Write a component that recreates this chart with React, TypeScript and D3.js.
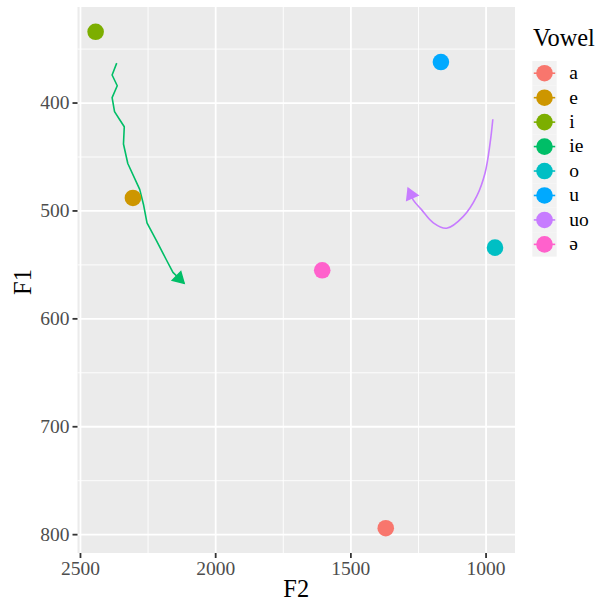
import React from "react";
import * as d3 from "d3";

const vowels = ["a", "e", "i", "ie", "o", "u", "uo", "ə"];
const colors = ["#F8766D", "#CD9600", "#7CAE00", "#00BE67", "#00BFC4", "#00A9FF", "#C77CFF", "#FF61CC"];

// monophthong points
const pointVowels = ["a", "e", "i", "o", "u", "ə"];
const pointF2 = [1371, 2306, 2444, 967, 1167, 1606];
const pointF1 = [794, 488, 334, 534, 362, 555];

// diphthong trajectories
const ieF2 = [2366, 2383, 2364, 2383, 2374, 2356, 2338, 2341, 2325, 2281, 2267, 2254, 2220, 2183, 2158, 2117];
const ieF1 = [363, 374, 384, 395, 408, 415, 422, 438, 456, 480, 494, 511, 527, 545, 557, 567];
const uoF2 = [975, 985, 1004, 1034, 1084, 1146, 1195, 1238, 1269, 1288];
const uoF1 = [415, 437, 465, 486, 505, 516, 511, 499, 490, 479];

const xTicks = [2500, 2000, 1500, 1000];
const xMinor = [2250, 1750, 1250];
const yTicks = [400, 500, 600, 700, 800];
const yMinor = [350, 450, 550, 650, 750];
const xDomain = [2511, 893];
const yDomain = [311, 817];

const W = 598, H = 603;
const pL = 77.5, pR = 515, pT = 7, pB = 553;
const font = "'Liberation Serif', 'Times New Roman', serif";

export default function App() {
  const x = d3.scaleLinear().domain(xDomain).range([pL, pR]);
  const y = d3.scaleLinear().domain(yDomain).range([pT, pB]);
  const col = d3.scaleOrdinal<string, string>().domain(vowels).range(colors);

  const paths = [
    { v: "ie", pts: ieF2.map((f, i) => [f, ieF1[i]] as [number, number]), curve: d3.curveLinear },
    { v: "uo", pts: uoF2.map((f, i) => [f, uoF1[i]] as [number, number]), curve: d3.curveCatmullRom },
  ];

  const arrowHead = (pts: [number, number][]) => {
    const n = pts.length;
    const tx = x(pts[n - 1][0]), ty = y(pts[n - 1][1]);
    const px = x(pts[n - 2][0]), py = y(pts[n - 2][1]);
    const ang = Math.atan2(ty - py, tx - px);
    const len = 12, a = Math.PI / 6;
    const p1 = [tx - len * Math.cos(ang - a), ty - len * Math.sin(ang - a)];
    const p2 = [tx - len * Math.cos(ang + a), ty - len * Math.sin(ang + a)];
    return `M${tx},${ty}L${p1[0]},${p1[1]}L${p2[0]},${p2[1]}Z`;
  };

  const keyTop = 61, keyH = 24.45, keyL = 532.3, keyW = 24.4;

  return (
    <div style={{ position: "absolute", left: 0, top: 0 }}>
      <svg width={W} height={H} style={{ display: "block", fontFamily: font }}>
        <rect x={0} y={0} width={W} height={H} fill="#fff" />
        <rect x={pL} y={pT} width={pR - pL} height={pB - pT} fill="#EBEBEB" />
        {xMinor.map(t => (
          <line key={"xm" + t} x1={x(t)} x2={x(t)} y1={pT} y2={pB} stroke="#fff" strokeWidth={0.9} />
        ))}
        {yMinor.map(t => (
          <line key={"ym" + t} x1={pL} x2={pR} y1={y(t)} y2={y(t)} stroke="#fff" strokeWidth={0.9} />
        ))}
        {xTicks.map(t => (
          <line key={"xM" + t} x1={x(t)} x2={x(t)} y1={pT} y2={pB} stroke="#fff" strokeWidth={1.8} />
        ))}
        {yTicks.map(t => (
          <line key={"yM" + t} x1={pL} x2={pR} y1={y(t)} y2={y(t)} stroke="#fff" strokeWidth={1.8} />
        ))}

        {paths.map(p => {
          const line = d3.line<[number, number]>().x(d => x(d[0])).y(d => y(d[1])).curve(p.curve);
          return (
            <g key={p.v}>
              <path d={line(p.pts) || ""} fill="none" stroke={col(p.v)} strokeWidth={1.6} strokeLinejoin="round" />
              <path d={arrowHead(p.pts)} fill={col(p.v)} stroke={col(p.v)} strokeWidth={1.6} strokeLinejoin="miter" />
            </g>
          );
        })}
        {pointVowels.map((v, i) => (
          <circle key={v} cx={x(pointF2[i])} cy={y(pointF1[i])} r={8.3} fill={col(v)} />
        ))}

        {/* axes */}
        {xTicks.map(t => (
          <g key={"xt" + t}>
            <line x1={x(t)} x2={x(t)} y1={pB} y2={pB + 5} stroke="#333" strokeWidth={1.8} />
            <text x={x(t)} y={575} textAnchor="middle" fontSize={19.5} fill="#4D4D4D">{t}</text>
          </g>
        ))}
        {yTicks.map(t => (
          <g key={"yt" + t}>
            <line x1={pL - 5} x2={pL} y1={y(t)} y2={y(t)} stroke="#333" strokeWidth={1.8} />
            <text x={69.5} y={y(t)} dy="0.33em" textAnchor="end" fontSize={19.5} fill="#4D4D4D">{t}</text>
          </g>
        ))}
        <text x={(pL + pR) / 2} y={597} textAnchor="middle" fontSize={24.4} fill="#000">F2</text>
        <text transform={`translate(30.5,${(pT + pB) / 2 + 2}) rotate(-90)`} textAnchor="middle" fontSize={24.4} fill="#000">F1</text>

        {/* legend */}
        <text x={533} y={46} fontSize={24.4} fill="#000">Vowel</text>
        {vowels.map((v, i) => {
          const cy = keyTop + keyH * i + keyH / 2;
          return (
            <g key={"lg" + v}>
              <rect x={keyL} y={keyTop + keyH * i} width={keyW} height={keyH} fill="#F2F2F2" />
              <line x1={keyL + 1.5} x2={keyL + keyW - 1.5} y1={cy} y2={cy} stroke={col(v)} strokeWidth={1.6} />
              <circle cx={keyL + keyW / 2} cy={cy} r={8.3} fill={col(v)} />
              <text x={569.3} y={cy} dy="0.3em" fontSize={19.5} fill="#000">{v}</text>
            </g>
          );
        })}
      </svg>
    </div>
  );
}
